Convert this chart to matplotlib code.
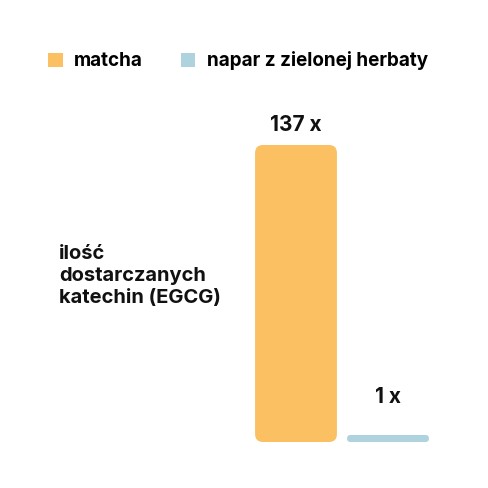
import matplotlib.pyplot as plt
from matplotlib.patches import FancyBboxPatch, Patch

# Data
series = ["matcha", "napar z zielonej herbaty"]
values = [137, 1]
value_labels = ["137 x", "1 x"]
colors = ["#FBC062", "#AED2DE"]
category = "ilość\ndostarczanych\nkatechin (EGCG)"

plt.rcParams['font.family'] = ['Inter', 'DejaVu Sans']

fig = plt.figure(figsize=(4.88, 4.88), dpi=100)
W = H = 488
ax = fig.add_axes([250 / W, 46 / H, 184 / W, 297 / H])
ax.set_xlim(-0.5, 1.5)
ax.set_ylim(0, 137)
ax.axis('off')

x = [0, 1]
width = 0.89
px_x = 184 / 2.0          # pixels per x unit
px_y = 297 / 137.0        # pixels per y unit
min_px = 7                # smallest visible bar height in pixels

bars = ax.bar(x, values, width=width, color=colors)
for b, c in zip(bars, colors):
    b.set_visible(False)
    h = max(b.get_height(), min_px / px_y)
    radius_px = min(8, h * px_y / 2)
    aspect = (1 / px_y) / (1 / px_x)
    patch = FancyBboxPatch((b.get_x(), 0), b.get_width(), h,
                           boxstyle=f"round,pad=0,rounding_size={radius_px / px_x}",
                           mutation_aspect=aspect, facecolor=c, edgecolor='none')
    ax.add_patch(patch)

# value labels
offsets = [10, 28]
for xi, v, lab, off in zip(x, values, value_labels, offsets):
    h = max(v, min_px / px_y)
    ax.annotate(lab, (xi, h), xytext=(0, off), textcoords='offset pixels',
                ha='center', va='bottom', fontsize=15, fontweight='bold',
                color='#111111')

# category label
fig.text(59 / W, 1 - 276 / H, category, ha='left', va='center',
         fontsize=14.5, fontweight='bold', color='#111111', linespacing=1.3)

# legend
handles = [Patch(facecolor=c, edgecolor='none') for c in colors]
fig.legend(handles, series, loc='center left', bbox_to_anchor=(31 / W, 1 - 61 / H),
           ncol=2, frameon=False, handlelength=0.78, handleheight=0.78,
           handletextpad=0.6, columnspacing=2.0,
           prop={'weight': 'bold', 'size': 13.6})

fig.savefig("out.png", dpi=100, facecolor='white')
